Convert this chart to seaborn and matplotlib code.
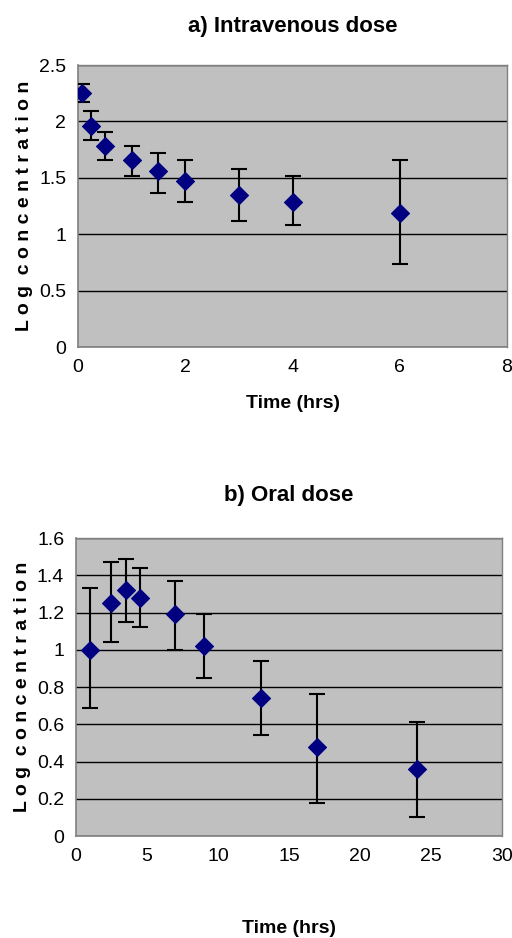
import numpy as np
import matplotlib.pyplot as plt
import seaborn as sns

# a) intravenous dose
iv_time = [0.083, 0.25, 0.5, 1, 1.5, 2, 3, 4, 6]
iv_mean = [2.25, 1.96, 1.78, 1.66, 1.56, 1.47, 1.35, 1.29, 1.19]
iv_upper = [2.33, 2.09, 1.91, 1.78, 1.72, 1.66, 1.58, 1.52, 1.66]
iv_lower = [2.17, 1.84, 1.66, 1.52, 1.37, 1.29, 1.12, 1.08, 0.74]

# b) oral dose
oral_time = [1, 2.5, 3.5, 4.5, 7, 9, 13, 17, 24]
oral_mean = [1.00, 1.25, 1.32, 1.28, 1.19, 1.02, 0.74, 0.48, 0.36]
oral_upper = [1.33, 1.47, 1.49, 1.44, 1.37, 1.19, 0.94, 0.76, 0.61]
oral_lower = [0.69, 1.04, 1.15, 1.12, 1.00, 0.85, 0.54, 0.18, 0.10]

sns.set_style("white")
plt.rcParams["font.family"] = ["Liberation Sans Narrow", "Liberation Sans", "DejaVu Sans"]
plt.rcParams["text.color"] = "black"
plt.rcParams["axes.labelcolor"] = "black"

fig = plt.figure(figsize=(5.12, 9.38), dpi=100)
ax_a = fig.add_axes([0.1523, 0.630, 0.838, 0.3006])
ax_b = fig.add_axes([0.1484, 0.1087, 0.832, 0.3177])


def draw_panel(ax, t, mean, upper, lower, title, xmax, xstep, ymax, ystep,
               title_pad, xlabel_pad):
    ax.set_facecolor("#c0c0c0")
    mean = np.array(mean)
    yerr = [mean - np.array(lower), np.array(upper) - mean]
    ax.errorbar(t, mean, yerr=yerr, fmt="none", ecolor="black",
                elinewidth=1.5, capsize=6, capthick=1.5, zorder=3)
    sns.scatterplot(x=t, y=mean, ax=ax, marker="D", s=85, color="#000080",
                    edgecolor="#000080", zorder=4)
    ax.set_xlim(0, xmax)
    ax.set_ylim(0, ymax)
    ax.set_xticks(np.arange(0, xmax + 0.01, xstep))
    yt = np.round(np.arange(0, ymax + 1e-9, ystep), 2)
    ax.set_yticks(yt)
    ax.set_yticklabels([f"{v:g}" for v in yt])
    ax.yaxis.grid(True, color="black", linewidth=1)
    ax.xaxis.grid(False)
    ax.set_axisbelow(True)
    for side in ["top", "right"]:
        ax.spines[side].set_color("#808080")
        ax.spines[side].set_linewidth(1)
    for side in ["left", "bottom"]:
        ax.spines[side].set_color("#808080")
        ax.spines[side].set_linewidth(1.2)
    ax.tick_params(axis="both", direction="out", length=5, width=1,
                   color="#808080", labelsize=14, labelcolor="black")
    ax.set_title(title, fontsize=16, fontweight="bold", pad=title_pad,
                 color="black")
    ax.set_xlabel("Time (hrs)", fontsize=14, fontweight="bold",
                  labelpad=xlabel_pad)
    ax.set_ylabel("L o g  c o n c e n t r a t i o n", fontsize=14,
                  fontweight="bold", family=["Liberation Sans", "DejaVu Sans"],
                  labelpad=4)


draw_panel(ax_a, iv_time, iv_mean, iv_upper, iv_lower,
           "a) Intravenous dose", 8, 2, 2.5, 0.5, 24, 14)
draw_panel(ax_b, oral_time, oral_mean, oral_upper, oral_lower,
           "b) Oral dose", 30, 5, 1.6, 0.2, 27, 40)

fig.savefig("out.png", dpi=100)
